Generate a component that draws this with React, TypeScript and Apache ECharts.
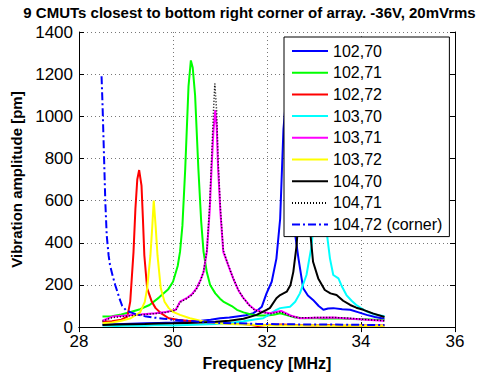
import React, { useEffect, useRef } from "react";
import * as echarts from "echarts";

const TITLE = "9 CMUTs closest to bottom right corner of array. -36V, 20mVrms";
const X_NAME = "Frequency [MHz]";
const Y_NAME = "Vibration amplitude [pm]";

const s102_70: number[][] = [
  [28.5, 12], [28.8, 14], [29.1, 16], [29.4, 18], [29.7, 20], [30.0, 22], [30.3, 25], [30.6, 30],
  [30.8, 35], [31.0, 42], [31.2, 45], [31.36, 50], [31.55, 56], [31.71, 66], [31.8, 80], [31.89, 97],
  [31.99, 160], [32.1, 215], [32.2, 325], [32.28, 514], [32.35, 938], [32.42, 1120], [32.48, 1080],
  [32.55, 750], [32.6, 438], [32.67, 325], [32.77, 184], [32.87, 150], [32.98, 129], [33.1, 100],
  [33.2, 82], [33.3, 88], [33.41, 90], [33.6, 85], [33.77, 82], [33.95, 70], [34.12, 58], [34.3, 48], [34.5, 40],
];
const s102_71: number[][] = [
  [28.5, 50], [28.7, 52], [28.9, 60], [29.1, 72], [29.3, 85], [29.5, 105], [29.7, 140], [29.9, 180],
  [30.0, 215], [30.1, 290], [30.15, 358], [30.2, 480], [30.26, 750], [30.33, 1142], [30.38, 1265],
  [30.42, 1230], [30.47, 1100], [30.54, 750], [30.6, 500], [30.65, 357], [30.72, 260], [30.79, 200],
  [30.9, 160], [31.0, 135], [31.07, 121], [31.14, 113], [31.25, 100], [31.36, 82], [31.5, 70], [31.64, 61],
  [31.8, 55], [32.0, 55], [32.14, 58], [32.28, 66], [32.4, 58], [32.6, 45], [32.8, 42], [33.0, 43],
  [33.2, 40], [33.5, 42], [33.8, 38], [34.1, 37], [34.3, 35], [34.5, 33],
];
const s102_72: number[][] = [
  [28.5, 25], [28.7, 28], [28.9, 35], [29.03, 50], [29.09, 121], [29.16, 357], [29.2, 560], [29.24, 700],
  [29.28, 745], [29.33, 671], [29.36, 514], [29.39, 341], [29.45, 184], [29.55, 120], [29.63, 90],
  [29.75, 65], [29.91, 42], [30.1, 35], [30.3, 30], [30.6, 25], [31.0, 20], [31.3, 18], [31.6, 12],
  [31.8, 5], [32.0, 10], [32.3, 12], [32.6, 10], [33.0, 8], [33.3, 10], [33.6, 6], [34.0, 8], [34.5, 8],
];
const s103_70: number[][] = [
  [28.5, 8], [28.8, 5], [29.1, 8], [29.4, 6], [29.7, 10], [30.0, 8], [30.3, 10], [30.6, 12], [30.9, 15],
  [31.2, 20], [31.5, 28], [31.7, 35], [31.92, 42], [32.05, 60], [32.2, 82], [32.28, 90], [32.49, 97],
  [32.6, 120], [32.7, 160], [32.84, 247], [32.95, 388], [33.0, 520], [33.08, 850], [33.14, 930],
  [33.2, 700], [33.27, 450], [33.34, 325], [33.41, 247], [33.52, 231], [33.6, 190], [33.69, 152],
  [33.8, 125], [33.9, 105], [34.0, 90], [34.12, 74], [34.3, 60], [34.5, 52],
];
const s103_71: number[][] = [
  [28.5, 30], [28.71, 50], [29.0, 55], [29.3, 60], [29.63, 66], [29.85, 72], [30.06, 82], [30.15, 121],
  [30.29, 137], [30.4, 155], [30.5, 184], [30.58, 220], [30.65, 262], [30.72, 357], [30.78, 550],
  [30.82, 750], [30.86, 930], [30.9, 1030], [30.93, 950], [30.96, 750], [31.01, 540], [31.07, 357],
  [31.18, 290], [31.28, 231], [31.39, 175], [31.5, 137], [31.62, 105], [31.74, 82], [31.9, 72],
  [32.06, 66], [32.3, 77], [32.5, 55], [32.7, 42], [33.0, 44], [33.41, 45], [33.8, 40], [34.12, 35],
  [34.3, 32], [34.5, 30],
];
const s103_72: number[][] = [
  [28.5, 18], [28.7, 22], [28.9, 30], [29.1, 42], [29.3, 70], [29.4, 120], [29.45, 184], [29.52, 341],
  [29.56, 480], [29.59, 600], [29.63, 480], [29.67, 341], [29.74, 184], [29.82, 120], [29.91, 90],
  [30.0, 72], [30.15, 58], [30.36, 42], [30.65, 27], [30.9, 20], [31.2, 15], [31.5, 12], [31.8, 10],
  [32.2, 8], [32.6, 7], [33.0, 8], [33.4, 6], [33.8, 7], [34.2, 6], [34.5, 6],
];
const s104_70: number[][] = [
  [28.5, 10], [28.8, 12], [29.1, 14], [29.4, 15], [29.7, 17], [30.0, 18], [30.3, 20], [30.6, 22],
  [30.9, 25], [31.2, 30], [31.5, 40], [31.78, 58], [31.99, 82], [32.06, 90], [32.2, 137], [32.28, 152],
  [32.42, 168], [32.5, 200], [32.56, 262], [32.63, 388], [32.7, 620], [32.78, 880], [32.85, 800],
  [32.92, 450], [32.98, 310], [33.09, 231], [33.23, 176], [33.35, 160], [33.48, 152], [33.62, 125],
  [33.77, 105], [33.9, 92], [34.05, 82], [34.25, 65], [34.5, 48],
];
const s104_71: number[][] = [
  [28.5, 28], [28.71, 45], [29.0, 52], [29.3, 58], [29.63, 64], [29.85, 70], [30.06, 80], [30.15, 118],
  [30.29, 135], [30.4, 152], [30.5, 180], [30.58, 218], [30.65, 262], [30.72, 365], [30.78, 580],
  [30.82, 800], [30.86, 1020], [30.89, 1155], [30.93, 1020], [30.96, 790], [31.01, 560], [31.07, 365],
  [31.18, 292], [31.28, 232], [31.39, 176], [31.5, 137], [31.62, 104], [31.74, 80], [31.9, 70],
  [32.06, 62], [32.3, 72], [32.5, 52], [32.7, 44], [33.0, 45], [33.41, 46], [33.8, 42], [34.12, 36],
  [34.3, 33], [34.5, 30],
];
const s104_72: number[][] = [
  [28.48, 1190], [28.5, 1060], [28.53, 829], [28.56, 594], [28.59, 435], [28.63, 340], [28.66, 294],
  [28.72, 240], [28.77, 200], [28.82, 165], [28.87, 130], [28.92, 100], [29.0, 80], [29.1, 70],
  [29.23, 60], [29.4, 52], [29.6, 45], [29.8, 40], [30.0, 35], [30.3, 30], [30.6, 25], [31.0, 20],
  [31.4, 18], [31.8, 15], [32.2, 14], [32.6, 13], [33.0, 12], [33.4, 12], [33.8, 11], [34.2, 10], [34.5, 10],
];

const SERIES_NAMES = ["102,70", "102,71", "102,72", "103,70", "103,71", "103,72", "104,70", "104,71", "104,72 (corner)"];
const SERIES_DATA = [s102_70, s102_71, s102_72, s103_70, s103_71, s103_72, s104_70, s104_71, s104_72];
const SERIES_COLORS = ["#0000ff", "#00ff00", "#ff0000", "#00ffff", "#ff00ff", "#ffff00", "#000000", "#000000", "#0000ff"];
const SERIES_DASH: any[] = ["solid", "solid", "solid", "solid", "solid", "solid", "solid", [1, 2], [8, 3, 2, 3]];

const FONT = "Liberation Sans, Arial, sans-serif";

export default function App() {
  const ref = useRef<HTMLDivElement>(null);
  useEffect(() => {
    if (!ref.current) return;
    const chart = echarts.init(ref.current, undefined, { renderer: "svg" });
    const axisCommon = {
      type: "value" as const,
      axisLine: { show: true, lineStyle: { color: "#000", width: 1 } },
      axisTick: { show: true, inside: true, length: 5, lineStyle: { color: "#000" } },
    };
    const plain = (v: number) => String(v);
    chart.setOption({
      animation: false,
      backgroundColor: "#fff",
      textStyle: { fontFamily: FONT },
      title: {
        text: TITLE,
        left: "center",
        top: 0,
        textStyle: { fontSize: 15, fontWeight: "bold", color: "#000", fontFamily: FONT },
      },
      grid: { left: 79, right: 44, top: 32, bottom: 47, show: false },
      legend: {
        orient: "vertical",
        left: 284,
        top: 37,
        data: SERIES_NAMES,
        backgroundColor: "#fff",
        borderColor: "#000",
        borderWidth: 1,
        padding: [6, 7, 4, 7],
        itemWidth: 36,
        itemHeight: 16,
        itemGap: 5.7,
        borderRadius: 0,
        itemStyle: { opacity: 0, borderWidth: 0 },
        textStyle: { fontSize: 16, lineHeight: 16, color: "#000", fontFamily: FONT },
        z: 10,
      },
      xAxis: [
        {
          ...axisCommon,
          min: 28,
          max: 36,
          interval: 2,
          name: X_NAME,
          nameLocation: "middle",
          nameGap: 24,
          nameTextStyle: { fontSize: 16, fontWeight: "bold", color: "#000", fontFamily: FONT },
          axisLabel: { fontSize: 17, color: "#000", margin: 6, fontFamily: FONT, formatter: plain },
          splitLine: { show: true, lineStyle: { type: [1, 3], color: "#777", width: 1 } },
        },
        {
          ...axisCommon,
          position: "top",
          min: 28,
          max: 36,
          interval: 2,
          axisLabel: { show: false },
          splitLine: { show: false },
        },
      ],
      yAxis: [
        {
          ...axisCommon,
          min: 0,
          max: 1400,
          interval: 200,
          name: Y_NAME,
          nameLocation: "middle",
          nameGap: 48,
          nameTextStyle: { fontSize: 15, fontWeight: "bold", color: "#000", fontFamily: FONT },
          axisLabel: { fontSize: 17, color: "#000", margin: 6, fontFamily: FONT, formatter: plain },
          splitLine: { show: true, lineStyle: { type: [1, 3], color: "#777", width: 1 } },
        },
        {
          ...axisCommon,
          position: "right",
          min: 0,
          max: 1400,
          interval: 200,
          axisLabel: { show: false },
          splitLine: { show: false },
        },
      ],
      series: SERIES_NAMES.map((name, i) => ({
        name,
        type: "line",
        data: SERIES_DATA[i],
        symbol: "none",
        xAxisIndex: 0,
        yAxisIndex: 0,
        lineStyle: { color: SERIES_COLORS[i], width: i === 7 ? 1.5 : 2, type: SERIES_DASH[i] },
        itemStyle: { color: SERIES_COLORS[i] },
        z: 2,
      })),
    });
    return () => chart.dispose();
  }, []);
  return <div ref={ref} style={{ width: 499, height: 376, position: "absolute", left: 0, top: 0 }} />;
}
